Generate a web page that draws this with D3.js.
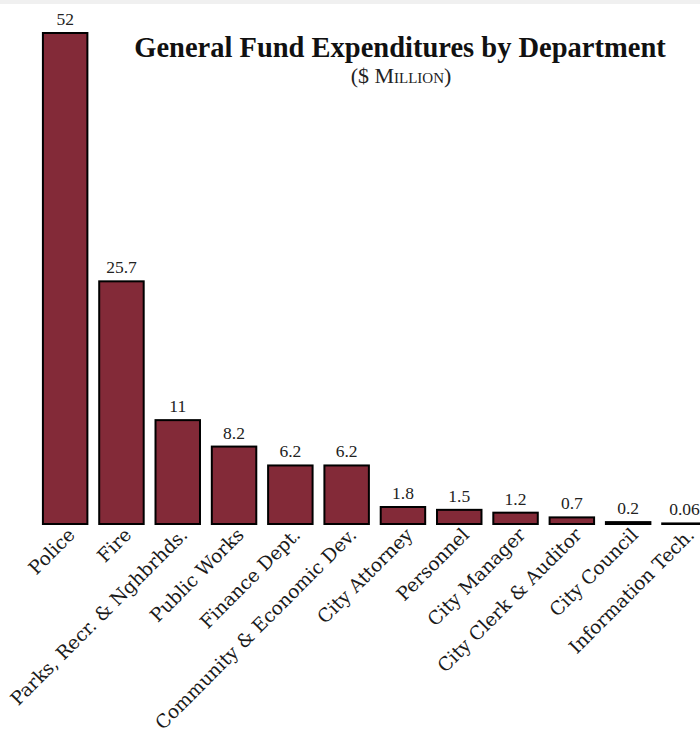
<!DOCTYPE html>
<meta charset="utf-8">
<head>
<title>General Fund Expenditures by Department</title>
<script src="https://cdn.jsdelivr.net/npm/d3@7"></script>
<style>
body { margin: 0; background: #fff; }
.bar { fill: #832a38; stroke: #000; stroke-width: 2px; }
.value { font-family: "Liberation Serif", serif; font-size: 17.5px; fill: #222; text-anchor: middle; }
.dept { font-family: "DejaVu Serif", serif; font-size: 18.6px; fill: #1a1a1a; text-anchor: end; }
.title { font-family: "Liberation Serif", serif; font-weight: bold; font-size: 28.5px; fill: #111; text-anchor: middle; }
.subtitle { font-family: "Liberation Serif", serif; font-size: 22px; fill: #222; text-anchor: middle; font-variant: small-caps; }
</style>
</head>
<body>
<script>
// Data
const departments = ["Police", "Fire", "Parks, Recr. & Nghbrhds.", "Public Works", "Finance Dept.",
    "Community & Economic Dev.", "City Attorney", "Personnel", "City Manager",
    "City Clerk & Auditor", "City Council", "Information Tech."];
const spending = [52, 25.7, 11, 8.2, 6.2, 6.2, 1.8, 1.5, 1.2, 0.7, 0.2, 0.06];

const width = 700, height = 736;
const baseline = 524;

const svg = d3.select("body").append("svg")
    .attr("width", width)
    .attr("height", height);

// thin grey strip along the top
svg.append("rect").attr("x", 0).attr("y", 0).attr("width", width).attr("height", 4).attr("fill", "#f0f0f0");

const x = d3.scaleBand()
    .domain(departments)
    .range([37, 712.6])
    .paddingInner(0.21)
    .paddingOuter(0.105);

const y = d3.scaleLinear()
    .domain([0, 52])
    .range([baseline, 33]);

const data = departments.map((d, i) => ({name: d, value: spending[i]}));

svg.selectAll(".bar")
    .data(data)
    .enter().append("rect")
    .attr("class", "bar")
    .attr("x", d => x(d.name))
    .attr("width", x.bandwidth())
    .attr("y", d => y(d.value))
    .attr("height", d => baseline - y(d.value));

svg.selectAll(".value")
    .data(data)
    .enter().append("text")
    .attr("class", "value")
    .attr("x", d => x(d.name) + x.bandwidth() / 2)
    .attr("y", d => y(d.value) - 8)
    .text(d => d.value);

svg.selectAll(".dept")
    .data(data)
    .enter().append("text")
    .attr("class", "dept")
    .attr("transform", d => `translate(${x(d.name) + x.bandwidth() / 2 + 11},${baseline + 12}) rotate(-45)`)
    .text(d => d.name);

svg.append("text")
    .attr("class", "title")
    .attr("x", 400)
    .attr("y", 57)
    .text("General Fund Expenditures by Department");

svg.append("text")
    .attr("class", "subtitle")
    .attr("x", 401)
    .attr("y", 83)
    .text("($ Million)");
</script>
</body>
</html>
